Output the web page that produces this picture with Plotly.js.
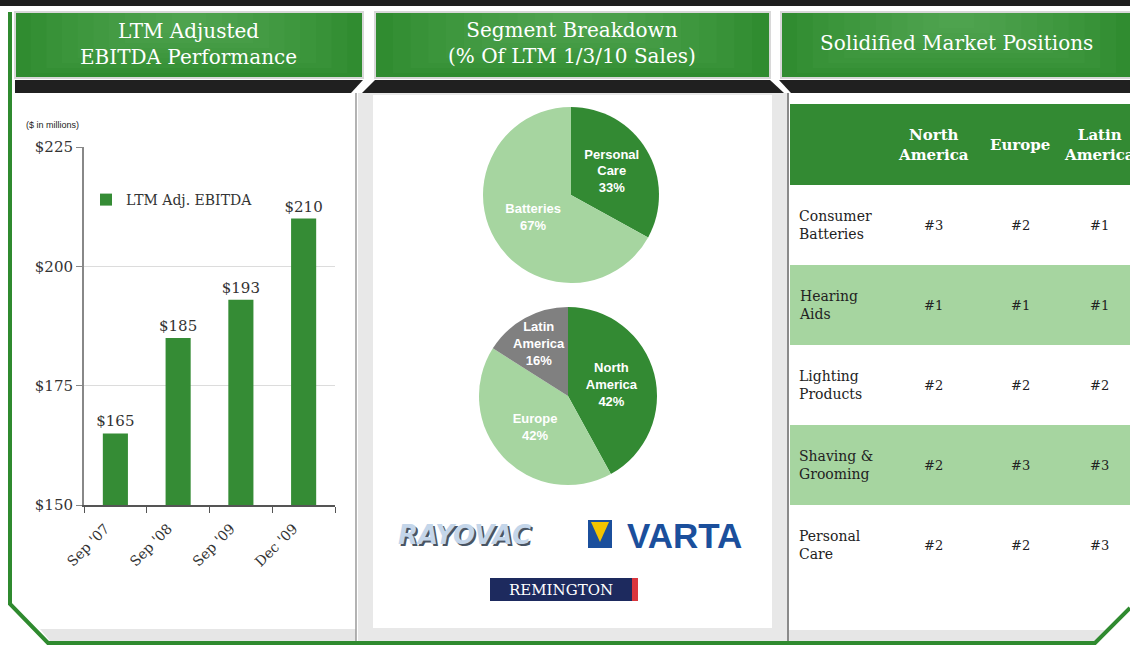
<!DOCTYPE html>
<html><head><meta charset="utf-8">
<script src="https://cdn.plot.ly/plotly-3.0.1.min.js"></script>
<style>html,body{margin:0;padding:0;background:#fff}#chart{width:1130px;height:646px}</style>
</head><body><div id="chart"></div>
<script>
// ---- data ----
const periods = ["Sep '07", "Sep '08", "Sep '09", "Dec '09"];
const ebitda = [165, 185, 193, 210];
const yTicks = [150, 175, 200, 225];
const segmentLabels = ["Personal Care", "Batteries"];
const segmentShares = [33, 67];
const regionLabels = ["North America", "Europe", "Latin America"];
const regionShares = [42, 42, 16];
const marketRegions = ["North America", "Europe", "Latin America"];
const marketCategories = ["Consumer Batteries", "Hearing Aids", "Lighting Products", "Shaving & Grooming", "Personal Care"];
const rankNorthAmerica = ["#3", "#1", "#2", "#2", "#2"];
const rankEurope = ["#2", "#1", "#2", "#3", "#2"];
const rankLatinAmerica = ["#1", "#1", "#2", "#3", "#3"];

// ---- helpers ----
const W = 1130, H = 646;
const X = v => v / W, Y = v => 1 - v / H;
const brk = s => { const i = s.lastIndexOf(' '); return i < 0 ? s : s.slice(0, i) + '<br>' + s.slice(i + 1); };
const DARK = '#338a33', LIGHT = '#a6d5a0', SERIF = 'DejaVu Serif', SANS = 'Liberation Sans';
const shapes = [], annotations = [];
function rect(x0, y0, x1, y1, fill, line, lw) {
  shapes.push({type: 'rect', xref: 'paper', yref: 'paper', x0: X(x0), x1: X(x1), y0: Y(y1), y1: Y(y0),
    fillcolor: fill, line: {color: line || 'rgba(0,0,0,0)', width: lw || 0}, layer: 'below'});
}
function path(pts, closed, fill, line, lw) {
  let d = pts.map((p, i) => (i ? 'L' : 'M') + X(p[0]).toFixed(5) + ',' + Y(p[1]).toFixed(5)).join(' ');
  if (closed) d += ' Z';
  shapes.push({type: 'path', xref: 'paper', yref: 'paper', path: d, fillcolor: fill || 'rgba(0,0,0,0)',
    line: {color: line || 'rgba(0,0,0,0)', width: lw || 0}, layer: 'below'});
}
function ann(x, y, text, font, opts) {
  annotations.push(Object.assign({xref: 'paper', yref: 'paper', x: X(x), y: Y(y), text: text, showarrow: false,
    font: font, xanchor: 'center', yanchor: 'middle'}, opts || {}));
}
function header(x0, y0, x1, y1) {
  rect(x0, y0, x1, y1, '#308c30', '#d8d8d8', 2);
  const w = x1 - x0, h = y1 - y0;
  for (let k = 1; k <= 10; k++) {
    const fx = 0.045 * k, fy = 0.075 * k;
    rect(x0 + w * fx, y0 + 1, x1 - w * fx, y1 - h * fy, 'rgba(120,200,120,0.055)');
  }
}

// ---- frame decoration ----
rect(0, 0, 1130, 6, '#1e1e1e');
rect(358, 93, 787, 641, '#e8e8e8');
rect(373, 95, 772, 628, '#ffffff');
path([[40, 629], [356, 629], [356, 641], [50, 641]], true, '#e6e6e6');
path([[788, 630], [1105, 630], [1095, 641], [788, 641]], true, '#e6e6e6');
path([[356, 93], [356, 641]], false, null, '#9a9a9a', 1.5);
path([[788, 93], [788, 641]], false, null, '#8a8a8a', 2);
header(15, 12, 363, 78);
header(375, 12, 770, 78);
header(781, 12, 1132, 78);
path([[15, 80], [363, 80], [351, 93], [15, 93]], true, '#202020');
path([[375, 80], [770, 80], [784, 93], [362, 93]], true, '#202020');
path([[779, 80], [1130, 80], [1130, 93], [791, 93]], true, '#202020');
path([[10, 12], [10, 604], [48, 643], [1095, 643], [1130, 608]], false, null, '#2f8a2f', 4);

// header titles
const titleFont = {family: SERIF, size: 20, color: '#ffffff'};
ann(188, 44, 'LTM Adjusted<br>EBITDA Performance', titleFont);
ann(572, 43, 'Segment Breakdown<br>(% Of LTM 1/3/10 Sales)', titleFont);
ann(956, 43, 'Solidified Market Positions', titleFont);

ann(24, 125, '($ in millions)', {family: SANS, size: 9, color: '#222'}, {xanchor: 'left'});

// ---- table (market positions) ----
const tblX0 = 790, tblX1 = 1132, hdrY0 = 104, hdrY1 = 185, rowH = 80;
const colCenters = [933, 1020, 1099];
const ranks = [rankNorthAmerica, rankEurope, rankLatinAmerica];
rect(tblX0, hdrY0, tblX1, hdrY1, DARK);
marketRegions.forEach((r, j) => ann(colCenters[j], 145, '<b>' + brk(r) + '</b>', {family: SERIF, size: 15, color: '#fff'}));
marketCategories.forEach((c, i) => {
  const y0 = hdrY1 + i * rowH;
  rect(tblX0, y0, tblX1, y0 + rowH, i % 2 ? LIGHT : '#ffffff');
  ann(797, y0 + rowH / 2, brk(c), {family: SERIF, size: 14, color: '#222'}, {xanchor: 'left', align: 'left'});
  ranks.forEach((col, j) => ann(colCenters[j], y0 + rowH / 2, col[i], {family: SERIF, size: 13, color: '#222'}));
});

// ---- logos ----
ann(465, 535, 'RAYOVAC', {family: 'DejaVu Sans', size: 26, color: '#c4d6ea', weight: 'bold', style: 'italic',
  shadow: '2px 2px 0px #4a5563'});
rect(588, 520, 612, 548, '#1b4f9c');
path([[591, 522], [609, 522], [600, 542]], true, '#f3c300');
ann(684, 535, 'VARTA', {family: SANS, size: 35, color: '#1b4f9c', weight: 'bold'});
rect(490, 578, 632, 601, '#1d2a5e');
rect(632, 578, 638, 601, '#d9363e');
ann(561, 590, 'REMINGTON', {family: SERIF, size: 15, color: '#ffffff'});

// ---- traces ----
const pieFont = {family: SANS, size: 13, color: '#fff', weight: 'bold'};
const traces = [
  {type: 'bar', x: periods, y: ebitda, name: 'LTM Adj. EBITDA', marker: {color: '#358c35'}, width: 0.4,
   text: ebitda.map(v => '$' + v), textposition: 'outside', constraintext: 'none', textangle: 0,
   textfont: {family: SERIF, size: 15, color: '#333'}, hoverinfo: 'x+y'},
  {type: 'pie', labels: segmentLabels, values: segmentShares, text: segmentLabels.map(brk), sort: false,
   direction: 'clockwise', rotation: 0, marker: {colors: [DARK, LIGHT]}, texttemplate: '%{text}<br>%{percent:.0%}',
   textposition: 'inside', insidetextorientation: 'horizontal', textfont: pieFont,
   domain: {x: [X(483), X(659)], y: [Y(283), Y(107)]}, showlegend: false, hoverinfo: 'label+percent'},
  {type: 'pie', labels: regionLabels, values: regionShares, text: regionLabels.map(brk), sort: false,
   direction: 'clockwise', rotation: 0, marker: {colors: [DARK, LIGHT, '#808080']}, texttemplate: '%{text}<br>%{percent:.0%}',
   textposition: 'inside', insidetextorientation: 'horizontal', textfont: pieFont,
   domain: {x: [X(479), X(657)], y: [Y(485), Y(307)]}, showlegend: false, hoverinfo: 'label+percent'}
];

const layout = {
  width: W, height: H, margin: {l: 0, r: 0, t: 0, b: 0},
  paper_bgcolor: '#ffffff', plot_bgcolor: 'rgba(0,0,0,0)',
  showlegend: true,
  uniformtext: {mode: 'show', minsize: 12},
  legend: {x: X(86), y: Y(200), xanchor: 'left', yanchor: 'middle', bgcolor: 'rgba(0,0,0,0)',
           font: {family: SERIF, size: 14, color: '#333'}},
  xaxis: {domain: [X(84), X(335)], type: 'category', range: [-0.5, 3.5], showline: true, linecolor: '#555', linewidth: 2,
          ticks: 'outside', tickson: 'boundaries', ticklen: 6, tickcolor: '#555', tickangle: -45,
          ticklabelstandoff: 8, ticklabelshift: -10,
          tickfont: {family: SERIF, size: 14, color: '#333'}, showgrid: false, fixedrange: true},
  yaxis: {domain: [Y(505), Y(147)], range: [150, 225], tickvals: yTicks, ticktext: yTicks.map(v => '$' + v),
          showline: true, linecolor: '#888', linewidth: 2, ticks: 'outside', ticklen: 6, tickcolor: '#888',
          showgrid: true, gridcolor: '#dcdcdc', zeroline: false, tickfont: {family: SERIF, size: 15, color: '#333'},
          fixedrange: true},
  shapes: shapes, annotations: annotations
};
Plotly.newPlot('chart', traces, layout, {displayModeBar: false, responsive: false});
</script></body></html>
